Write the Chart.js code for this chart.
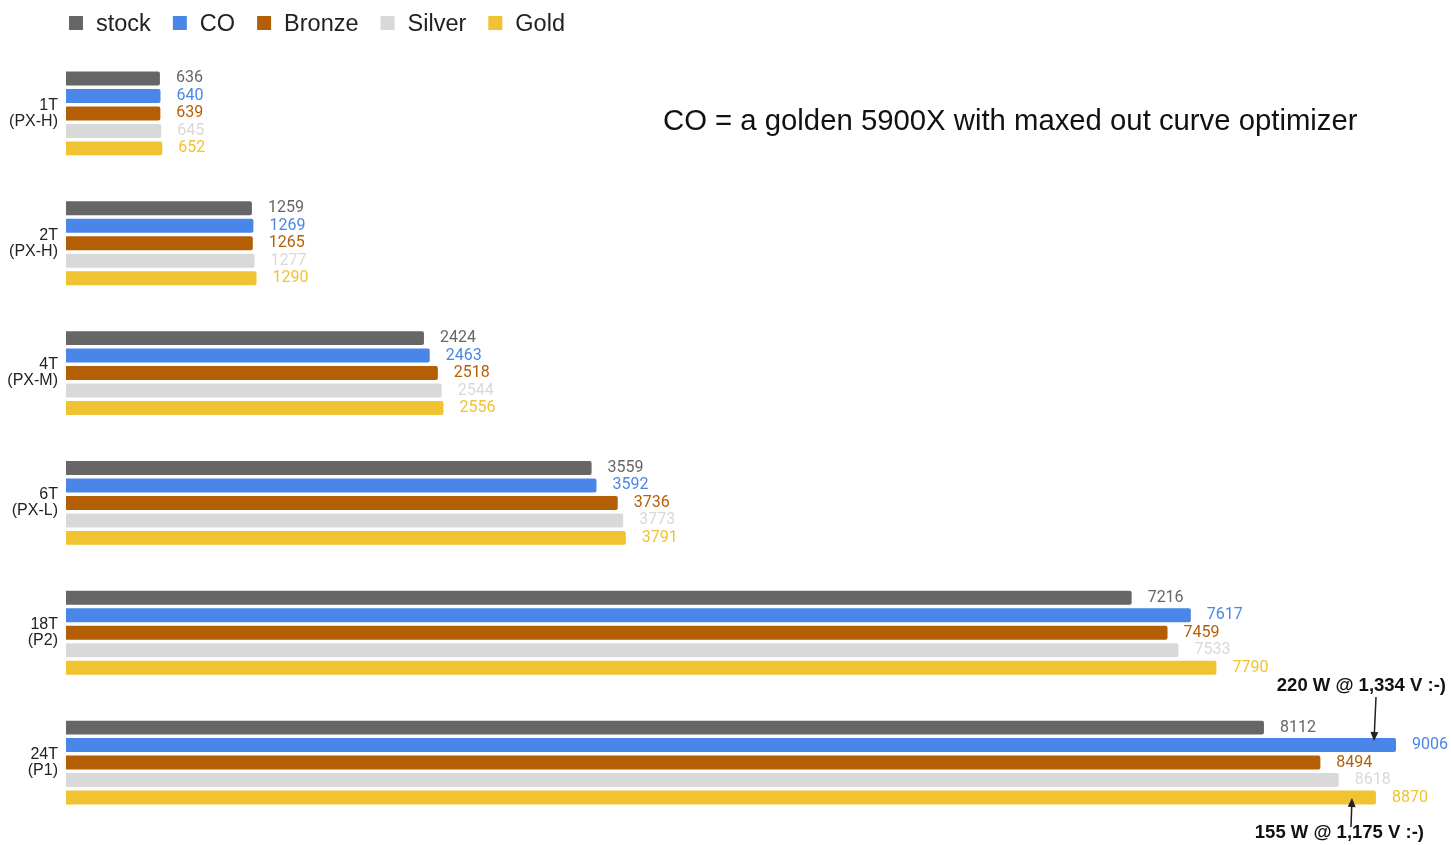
<!DOCTYPE html>
<html>
<head>
<meta charset="utf-8">
<script src="https://cdn.jsdelivr.net/npm/chart.js@4.4.1/dist/chart.umd.min.js"></script>
<style>
  html, body { margin: 0; padding: 0; background: #fff; }
  #wrap { width: 1451px; height: 845px; position: relative; }
</style>
</head>
<body>
<div id="wrap"><canvas id="chart"></canvas></div>
<script>
// categories (thread count / test) and one array per series
const categories = [
  ['1T', '(PX-H)'],
  ['2T', '(PX-H)'],
  ['4T', '(PX-M)'],
  ['6T', '(PX-L)'],
  ['18T', '(P2)'],
  ['24T', '(P1)']
];
const seriesNames = ['stock', 'CO', 'Bronze', 'Silver', 'Gold'];
const stock  = [636, 1259, 2424, 3559, 7216, 8112];
const co     = [640, 1269, 2463, 3592, 7617, 9006];
const bronze = [639, 1265, 2518, 3736, 7459, 8494];
const silver = [645, 1277, 2544, 3773, 7533, 8618];
const gold   = [652, 1290, 2556, 3791, 7790, 8870];
const colors = ['#666666', '#4a86e8', '#b45f06', '#d9d9d9', '#f1c232'];

const note = 'CO = a golden 5900X with maxed out curve optimizer';
const callouts = ['220 W @ 1,334 V :-)', '155 W @ 1,175 V :-)'];

const seriesData = [stock, co, bronze, silver, gold];
const ARIAL = '"Liberation Sans", Arial, sans-serif';

// draw the legend by hand so spacing matches the sheet export
const legendPlugin = {
  id: 'sheetLegend',
  afterDraw(chart) {
    const {ctx} = chart;
    ctx.save();
    ctx.font = '23.5px ' + ARIAL;
    ctx.textBaseline = 'alphabetic';
    let x = 69;
    chart.data.datasets.forEach((ds) => {
      ctx.fillStyle = ds.backgroundColor;
      ctx.fillRect(x, 16, 14, 14);
      ctx.fillStyle = '#222';
      ctx.fillText(ds.label, x + 27, 31);
      x += 27 + ctx.measureText(ds.label).width + 22;
    });
    ctx.restore();
  }
};

// numbers at the end of each bar
const valueLabelPlugin = {
  id: 'valueLabels',
  afterDatasetsDraw(chart) {
    const {ctx} = chart;
    ctx.save();
    ctx.font = '16px Roboto';
    ctx.textAlign = 'left';
    ctx.textBaseline = 'middle';
    chart.data.datasets.forEach((ds, i) => {
      const meta = chart.getDatasetMeta(i);
      meta.data.forEach((bar, j) => {
        ctx.fillStyle = colors[i];
        ctx.fillText(String(ds.data[j]), bar.x + 16, bar.y);
      });
    });
    ctx.restore();
  }
};

function arrow(ctx, x1, y1, x2, y2) {
  const ang = Math.atan2(y2 - y1, x2 - x1);
  ctx.beginPath();
  ctx.moveTo(x1, y1);
  ctx.lineTo(x2 - 6 * Math.cos(ang), y2 - 6 * Math.sin(ang));
  ctx.stroke();
  ctx.beginPath();
  ctx.moveTo(x2, y2);
  ctx.lineTo(x2 - 9 * Math.cos(ang) + 4 * Math.sin(ang), y2 - 9 * Math.sin(ang) - 4 * Math.cos(ang));
  ctx.lineTo(x2 - 9 * Math.cos(ang) - 4 * Math.sin(ang), y2 - 9 * Math.sin(ang) + 4 * Math.cos(ang));
  ctx.closePath();
  ctx.fill();
}

const notesPlugin = {
  id: 'notes',
  afterDraw(chart) {
    const {ctx} = chart;
    ctx.save();
    ctx.fillStyle = '#111';
    ctx.font = '29.3px ' + ARIAL;
    ctx.textBaseline = 'middle';
    ctx.textAlign = 'left';
    ctx.fillText(note, 663, 122);

    ctx.font = 'bold 18.5px ' + ARIAL;
    ctx.textAlign = 'right';
    ctx.fillText(callouts[0], 1446, 686);
    ctx.fillText(callouts[1], 1424, 833);

    ctx.strokeStyle = '#222';
    ctx.fillStyle = '#222';
    ctx.lineWidth = 1.5;
    arrow(ctx, 1376, 697, 1374, 741);
    arrow(ctx, 1351, 827, 1352, 798);
    ctx.restore();
  }
};

new Chart(document.getElementById('chart'), {
  type: 'bar',
  data: {
    labels: categories,
    datasets: seriesNames.map((name, i) => ({
      label: name,
      data: seriesData[i],
      backgroundColor: colors[i],
      borderRadius: 2,
      borderSkipped: 'start',
      categoryPercentage: 0.673,
      barPercentage: 0.8
    }))
  },
  options: {
    indexAxis: 'y',
    responsive: true,
    maintainAspectRatio: false,
    animation: false,
    layout: {padding: {top: 48.5, right: 11.6, bottom: 17.5, left: 0}},
    scales: {
      x: {
        display: false,
        min: 0,
        max: 9300
      },
      y: {
        grid: {display: false, drawTicks: false},
        border: {display: false},
        ticks: {
          color: '#222',
          padding: 8,
          font: {family: ARIAL, size: 16, lineHeight: '16px'}
        },
        afterFit(scale) {
          scale.width = 66;
          // two-line labels would otherwise push the plot area in
          scale.paddingTop = 0;
          scale.paddingBottom = 0;
        }
      }
    },
    plugins: {
      legend: {display: false},
      tooltip: {enabled: false}
    }
  },
  plugins: [legendPlugin, valueLabelPlugin, notesPlugin]
});
</script>
</body>
</html>
